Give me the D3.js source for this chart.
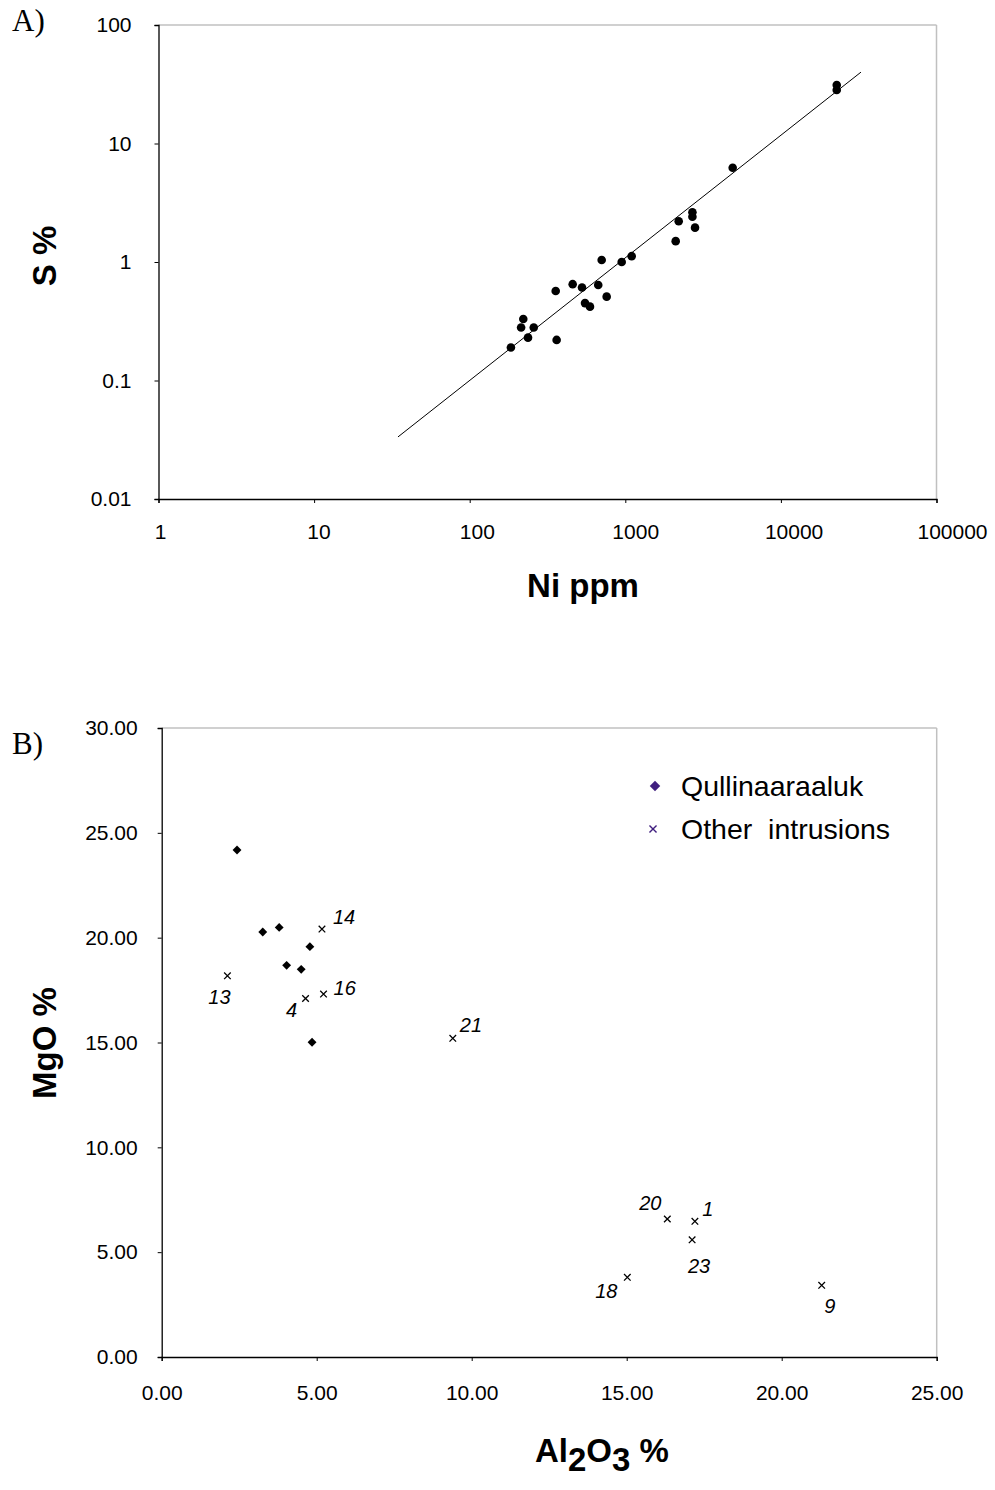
<!DOCTYPE html>
<meta charset="utf-8">
<style>
body { margin: 0; background: #fff; }
text { font-family: "Liberation Sans", Arial, sans-serif; fill: #000; }
.tick text { font-size: 21px; }
.title { font-size: 33px; font-weight: bold; }
.panel { font-family: "Liberation Serif", "Times New Roman", serif; font-size: 31px; }
.lbl { font-size: 20px; font-style: italic; }
.legend text { font-size: 28.5px; }
</style>
<svg width="995" height="1490"></svg>
<script src="https://cdn.jsdelivr.net/npm/d3@7"></script>
<script>

// ---- panel A: S % vs Ni ppm (log-log) ----
var niPpm = [184, 221, 214, 258, 237, 362, 357, 459, 527, 670, 705, 948, 1099, 551, 593, 759,
             22850, 22850, 4900, 2700, 2700, 2204, 2806, 2108];
var sPct  = [0.19, 0.33, 0.28, 0.28, 0.23, 0.22, 0.57, 0.65, 0.61, 0.64, 1.04, 1.0, 1.12, 0.45, 0.42, 0.51,
             31.2, 28.3, 6.25, 2.63, 2.41, 2.21, 1.95, 1.50];
var fitNi = [34.6, 32700];
var fitS  = [0.0334, 40];
var xTicksA = [1, 10, 100, 1000, 10000, 100000];
var yTicksA = [0.01, 0.1, 1, 10, 100];

// ---- panel B: MgO % vs Al2O3 % ----
var qulAl  = [2.43, 3.26, 3.79, 4.78, 4.03, 4.50, 4.85];
var qulMg  = [24.18, 20.27, 20.49, 19.57, 18.68, 18.49, 15.01];
var othAl  = [5.17, 2.12, 4.64, 5.22, 9.39, 16.31, 17.20, 17.11, 15.02, 21.29];
var othMg  = [20.41, 18.18, 17.10, 17.31, 15.20, 6.58, 6.47, 5.59, 3.80, 3.42];
var othId  = ["14", "13", "4", "16", "21", "20", "1", "23", "18", "9"];
var ticksB = [0, 5, 10, 15, 20, 25, 30];
var seriesNames = ["Qullinaaraaluk", "Other  intrusions"];

// label placement relative to each "other" point (px)
var lblOff = [[11, -5, "start"], [-8, 28, "middle"], [-14, 19, "middle"], [10, 1, "start"],
              [7, -6, "start"], [-17, -9, "middle"], [13, -5, "middle"], [7, 33, "middle"],
              [-21, 21, "middle"], [8, 28, "middle"]];

var svg = d3.select("svg");

function styleAxis(a) {
  a.select(".domain").attr("stroke", "#000").attr("stroke-width", 1.3);
  a.selectAll("line").attr("stroke", "#000");
  a.selectAll(".tick text").attr("fill", "#000");
  a.attr("font-family", null).attr("font-size", null);
}

// ================= A =================
var x = d3.scaleLog().domain([1, 100000]).range([158.5, 936.5]);
var xl = d3.scaleLog().domain([1, 100000]).range([160, 952]);   // label positions
var y = d3.scaleLog().domain([0.01, 100]).range([499, 25]);

var gA = svg.append("g");

gA.append("line").attr("x1", x(1)).attr("x2", x(100000)).attr("y1", y(100)).attr("y2", y(100))
    .attr("stroke", "#c0c0c0").attr("stroke-width", 1.5);
gA.append("line").attr("x1", x(100000)).attr("x2", x(100000)).attr("y1", y(100)).attr("y2", y(0.01))
    .attr("stroke", "#c0c0c0").attr("stroke-width", 1.5);

var yAxA = gA.append("g").attr("transform", "translate(" + x(1) + ",0)")
    .call(d3.axisLeft(y).tickValues(yTicksA).tickSize(4).tickPadding(23)
      .tickFormat(function(d) { return d >= 1 ? d3.format("d")(d) : String(d); }));
var xAxA = gA.append("g").attr("transform", "translate(0," + y(0.01) + ")")
    .call(d3.axisBottom(x).tickValues(xTicksA).tickSize(4).tickFormat(d3.format("d")));
xAxA.selectAll(".tick text").attr("x", function(d) { return xl(d) - x(d); }).attr("dy", "1.55em");
styleAxis(yAxA);
styleAxis(xAxA);

gA.append("line")
    .attr("x1", x(fitNi[0])).attr("y1", y(fitS[0]))
    .attr("x2", x(fitNi[1])).attr("y2", y(fitS[1]))
    .attr("stroke", "#000").attr("stroke-width", 1);

gA.selectAll("circle").data(d3.range(niPpm.length)).enter().append("circle")
    .attr("cx", function(i) { return x(niPpm[i]); })
    .attr("cy", function(i) { return y(sPct[i]); })
    .attr("r", 4.3).attr("fill", "#000");

gA.append("text").attr("class", "panel").attr("x", 12).attr("y", 31).text("A)");
gA.append("text").attr("class", "title").attr("text-anchor", "middle")
    .attr("transform", "translate(56,256) rotate(-90)").text("S %");
gA.append("text").attr("class", "title").attr("text-anchor", "middle")
    .attr("x", 583).attr("y", 597).text("Ni ppm");

// ================= B =================
var xb = d3.scaleLinear().domain([0, 25]).range([161.7, 936.7]);
var yb = d3.scaleLinear().domain([0, 30]).range([1357, 728]);

var gB = svg.append("g");
gB.append("line").attr("x1", xb(0)).attr("x2", xb(25)).attr("y1", yb(30)).attr("y2", yb(30))
    .attr("stroke", "#c0c0c0").attr("stroke-width", 1.5);
gB.append("line").attr("x1", xb(25)).attr("x2", xb(25)).attr("y1", yb(30)).attr("y2", yb(0))
    .attr("stroke", "#c0c0c0").attr("stroke-width", 1.5);

var yAxB = gB.append("g").attr("transform", "translate(" + xb(0) + ",0)")
    .call(d3.axisLeft(yb).tickValues(ticksB).tickSize(4).tickPadding(20).tickFormat(d3.format(".2f")));
var xAxB = gB.append("g").attr("transform", "translate(0," + yb(0) + ")")
    .call(d3.axisBottom(xb).tickValues(ticksB.slice(0, 6)).tickSize(4).tickFormat(d3.format(".2f")));
xAxB.selectAll(".tick text").attr("dy", "1.7em");
styleAxis(yAxB);
styleAxis(xAxB);

var diamond = d3.symbol().type(d3.symbolDiamond2).size(50);
gB.selectAll("path.q").data(d3.range(qulAl.length)).enter().append("path")
    .attr("class", "q").attr("d", diamond).attr("fill", "#000")
    .attr("transform", function(i) { return "translate(" + xb(qulAl[i]) + "," + yb(qulMg[i]) + ")"; });

var cross = d3.symbol().type(d3.symbolTimes).size(30);
gB.selectAll("path.o").data(d3.range(othAl.length)).enter().append("path")
    .attr("class", "o").attr("d", cross).attr("fill", "none").attr("stroke", "#000").attr("stroke-width", 1.3)
    .attr("transform", function(i) { return "translate(" + xb(othAl[i]) + "," + yb(othMg[i]) + ")"; });

gB.selectAll("text.lbl").data(d3.range(othId.length)).enter().append("text")
    .attr("class", "lbl")
    .attr("x", function(i) { return xb(othAl[i]) + lblOff[i][0]; })
    .attr("y", function(i) { return yb(othMg[i]) + lblOff[i][1]; })
    .attr("text-anchor", function(i) { return lblOff[i][2]; })
    .text(function(i) { return othId[i]; });

var leg = gB.append("g").attr("class", "legend");
leg.append("path").attr("d", d3.symbol().type(d3.symbolDiamond2).size(70))
    .attr("transform", "translate(655,786)").attr("fill", "#401f7f");
leg.append("path").attr("d", d3.symbol().type(d3.symbolTimes).size(34))
    .attr("transform", "translate(653,829)").attr("fill", "none").attr("stroke", "#401f7f").attr("stroke-width", 1.4);
leg.selectAll("text").data(seriesNames).enter().append("text")
    .attr("x", 681).attr("y", function(d, i) { return 796 + i * 43; })
    .attr("xml:space", "preserve")
    .text(function(d) { return d; });

gB.append("text").attr("class", "panel").attr("x", 12).attr("y", 754).text("B)");
gB.append("text").attr("class", "title").attr("text-anchor", "middle")
    .attr("transform", "translate(56,1043) rotate(-90)").text("MgO %");
var t = gB.append("text").attr("class", "title")
    .attr("x", 535).attr("y", 1462);
t.append("tspan").text("Al");
t.append("tspan").attr("dy", 9).text("2");
t.append("tspan").attr("dy", -9).text("O");
t.append("tspan").attr("dy", 9).text("3");
t.append("tspan").attr("dy", -9).attr("xml:space", "preserve").text(" %");

</script>
